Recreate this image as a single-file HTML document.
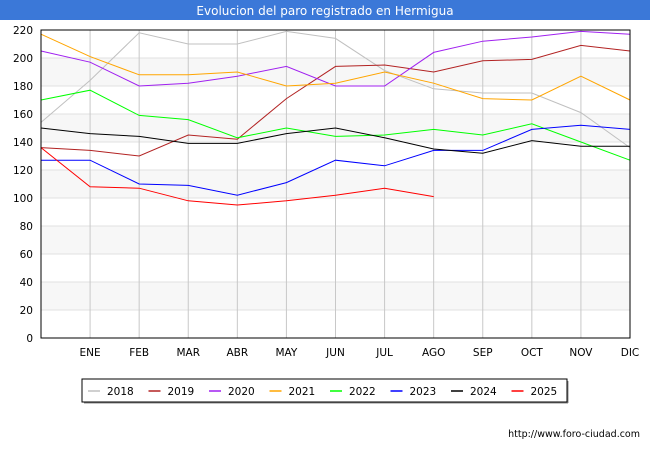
<!DOCTYPE html>
<html><head><meta charset="utf-8"><style>
body{margin:0;background:#fff;font-family:"DejaVu Sans","Liberation Sans",sans-serif}
#wrap{position:relative;width:650px;height:450px}
svg text{font-family:"DejaVu Sans","Liberation Sans",sans-serif}
</style></head><body>
<div id="wrap">
<svg id="svg" width="650" height="450">
<rect x="0" y="0" width="650" height="20" fill="#3b78d8"/>
<text x="325" y="15" fill="#fff" font-size="12" text-anchor="middle">Evolucion del paro registrado en Hermigua</text>
<g id="grid"></g><g id="lines"></g>
<rect x="41" y="30" width="589" height="308" fill="none" stroke="#000"/>
<g id="legend"></g>
<text x="640" y="437" font-size="9.5" text-anchor="end" fill="#000">http://www.foro-ciudad.com</text>
</svg></div>
<script>
const categories=["","ENE","FEB","MAR","ABR","MAY","JUN","JUL","AGO","SEP","OCT","NOV","DIC"];
const yTicks=[0,20,40,60,80,100,120,140,160,180,200,220];
const seriesNames=["2018","2019","2020","2021","2022","2023","2024","2025"];
const seriesColors=["#c0c0c0","#b22222","#a020f0","#ffa500","#00ff00","#0000ff","#000000","#ff0000"];
const s2018=[154,184,218,210,210,219,214,191,178,175,175,161,136];
const s2019=[136,134,130,145,142,171,194,195,190,198,199,209,205];
const s2020=[205,197,180,182,187,194,180,180,204,212,215,219,217];
const s2021=[217,201,188,188,190,180,182,190,182,171,170,187,170];
const s2022=[170,177,159,156,143,150,144,145,149,145,153,140,127];
const s2023=[127,127,110,109,102,111,127,123,134,134,149,152,149];
const s2024=[150,146,144,139,139,146,150,143,135,132,141,137,137];
const s2025=[136,108,107,98,95,98,102,107,101];
const allSeries=[s2018,s2019,s2020,s2021,s2022,s2023,s2024,s2025];
const NS="http://www.w3.org/2000/svg";
const X=i=>41+i*(589/12), Y=v=>338-v*(308/220);
function mk(t,a,p){const e=document.createElementNS(NS,t);for(const k in a)e.setAttribute(k,a[k]);p.appendChild(e);return e;}
const g=document.getElementById('grid');
for(let i=0;i<yTicks.length-1;i++){if(i%2==1){const r=mk('rect',{x:41,y:Y(yTicks[i+1]),width:589,height:Y(yTicks[i])-Y(yTicks[i+1]),fill:'#f7f7f7'},g);

}}
yTicks.forEach(v=>{const l=mk('line',{x1:41,x2:630,y1:Y(v),y2:Y(v),stroke:'#e0e0e0'},g);


const t=mk('text',{x:33,y:Y(v)+4,'font-size':10.5,'text-anchor':'end',fill:'#000'},g);t.textContent=v;

});
categories.forEach((c,i)=>{if(i>0&&i<12){const l=mk('line',{x1:X(i),x2:X(i),y1:30,y2:338,stroke:'#c8c8c8'},g);

}
if(c){const t=mk('text',{x:X(i),y:356,'font-size':10.5,'text-anchor':'middle',fill:'#000'},g);t.textContent=c;

}});
const L=document.getElementById('lines');
allSeries.forEach((s,k)=>{const p=mk('polyline',{points:s.map((v,i)=>X(i)+','+Y(v)).join(' '),fill:'none',stroke:seriesColors[k],'stroke-width':1},L);

});
const lg=document.getElementById('legend');
const box=mk('rect',{x:82,y:379,width:485,height:23,fill:'#fff',stroke:'#000'},lg);


mk('line',{x1:84,y1:403,x2:568,y2:403,stroke:'#888'},lg);mk('line',{x1:568,y1:381,x2:568,y2:403,stroke:'#888'},lg);
seriesNames.forEach((n,k)=>{const x=88+k*60.5;const l=mk('line',{x1:x,x2:x+12,y1:391,y2:391,stroke:seriesColors[k],'stroke-width':1.5},lg);


const t=mk('text',{x:x+19,y:395,'font-size':10.5,fill:'#000'},lg);t.textContent=n;

});
</script></body></html>
